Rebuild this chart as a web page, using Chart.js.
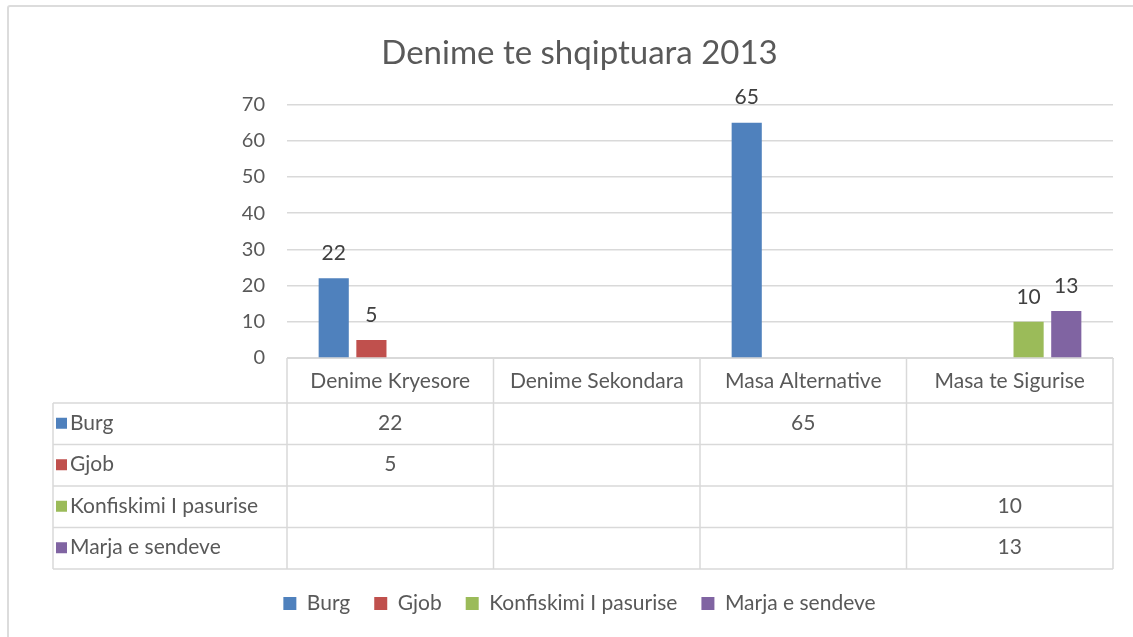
<!DOCTYPE html>
<html lang="sq">
<head>
<meta charset="UTF-8">
<title>Denime te shqiptuara 2013</title>
<script src="https://cdn.jsdelivr.net/npm/chart.js@4.4.3/dist/chart.umd.min.js"></script>
<style>
    body { margin: 0; background: #ffffff; font-family: Lato, "Open Sans", sans-serif; }
    /* grey frame of the chart object, cut off on right and bottom like in the source */
    .frame {
        position: absolute; left: 7px; top: 5px;
        width: 1200px; height: 700px;
        border: 2px solid #dcdcdc; border-radius: 3px;
    }
    .wrap { position: absolute; left: 0; top: 0; width: 1133px; height: 637px; }
</style>
</head>
<body>
<div class="frame"></div>
<div class="wrap"><canvas id="chart"></canvas></div>

<script>
// data
const categories = ['Denime Kryesore', 'Denime Sekondara', 'Masa Alternative', 'Masa te Sigurise'];
const seriesNames = ['Burg', 'Gjob', 'Konfiskimi I pasurise', 'Marja e sendeve'];
const burg = [22, null, 65, null];
const gjob = [5, null, null, null];
const konfiskimi = [null, null, null, 10];
const marja = [null, null, null, 13];
const colors = ['#4F81BD', '#C0504D', '#9BBB59', '#8064A2'];

const seriesValues = [burg, gjob, konfiskimi, marja];
const FONT = 'Lato, "Open Sans", sans-serif';
const TEXT = '#595959';
const LINE = '#d9d9d9';

// value labels above the bars
const barLabels = {
    id: 'barLabels',
    afterDatasetsDraw(chart) {
        const ctx = chart.ctx;
        ctx.save();
        ctx.font = '21px ' + FONT;
        ctx.fillStyle = '#404040';
        ctx.textAlign = 'center';
        ctx.textBaseline = 'middle';
        chart.data.datasets.forEach((ds, i) => {
            chart.getDatasetMeta(i).data.forEach((bar, j) => {
                if (ds.data[j] == null) return;
                ctx.fillText(String(ds.data[j]), bar.x, bar.y - 25);
            });
        });
        ctx.restore();
    }
};

// data table under the axis (Excel style)
const dataTable = {
    id: 'dataTable',
    afterDraw(chart) {
        const { ctx, chartArea } = chart;
        const n = categories.length;
        const colW = (chartArea.right - chartArea.left) / n;
        const headTop = chartArea.bottom;
        const top = headTop + 45;
        const rowH = 41.5;
        const bottom = top + rowH * seriesNames.length;
        const tableLeft = 53;

        ctx.save();
        ctx.strokeStyle = LINE;
        ctx.lineWidth = 1.5;
        ctx.beginPath();
        // column separators (header + body)
        for (let i = 0; i <= n; i++) {
            const x = chartArea.left + i * colW;
            ctx.moveTo(x, headTop);
            ctx.lineTo(x, bottom);
        }
        ctx.moveTo(tableLeft, top);
        ctx.lineTo(tableLeft, bottom);
        // row lines
        for (let r = 0; r <= seriesNames.length; r++) {
            const y = top + r * rowH;
            ctx.moveTo(tableLeft, y);
            ctx.lineTo(chartArea.right, y);
        }
        ctx.stroke();

        ctx.font = '21px ' + FONT;
        ctx.textBaseline = 'middle';
        seriesNames.forEach((name, r) => {
            const cy = top + r * rowH + rowH / 2 - 1;
            ctx.fillStyle = colors[r];
            ctx.fillRect(tableLeft + 3, cy - 5, 11, 11);
            ctx.fillStyle = TEXT;
            ctx.textAlign = 'left';
            ctx.fillText(name, tableLeft + 17, cy);
            ctx.textAlign = 'center';
            seriesValues[r].forEach((v, c) => {
                if (v == null) return;
                ctx.fillText(String(v), chartArea.left + c * colW + colW / 2, cy);
            });
        });
        ctx.restore();
    }
};

new Chart(document.getElementById('chart'), {
    type: 'bar',
    data: {
        labels: categories,
        datasets: seriesNames.map((name, i) => ({
            label: name,
            data: seriesValues[i],
            backgroundColor: colors[i],
            borderWidth: 0,
            categoryPercentage: 0.73,
            barPercentage: 0.8
        }))
    },
    options: {
        responsive: true,
        maintainAspectRatio: false,
        animation: false,
        layout: { padding: { left: 46, right: 20, top: 0, bottom: 13 } },
        plugins: {
            title: {
                display: true,
                text: 'Denime te shqiptuara 2013',
                color: TEXT,
                font: { family: FONT, size: 33, weight: 'normal' },
                padding: { top: 34, bottom: 31 }
            },
            legend: {
                position: 'bottom',
                labels: {
                    color: TEXT,
                    boxWidth: 13,
                    boxHeight: 13,
                    padding: 24,
                    font: { family: FONT, size: 21 }
                }
            },
            tooltip: { enabled: false }
        },
        scales: {
            x: {
                grid: { display: false },
                border: { color: LINE },
                ticks: {
                    color: TEXT,
                    padding: 3,
                    maxRotation: 0,
                    font: { family: FONT, size: 21 }
                },
                afterFit(scale) { scale.height = 211; }
            },
            y: {
                min: 0,
                max: 70,
                grid: { color: LINE, drawTicks: false, lineWidth: 1.5 },
                border: { display: false },
                ticks: {
                    stepSize: 10,
                    color: TEXT,
                    padding: 22,
                    font: { family: FONT, size: 20 }
                },
                afterFit(scale) { scale.width = 241; }
            }
        }
    },
    plugins: [barLabels, dataTable]
});
</script>
</body>
</html>
